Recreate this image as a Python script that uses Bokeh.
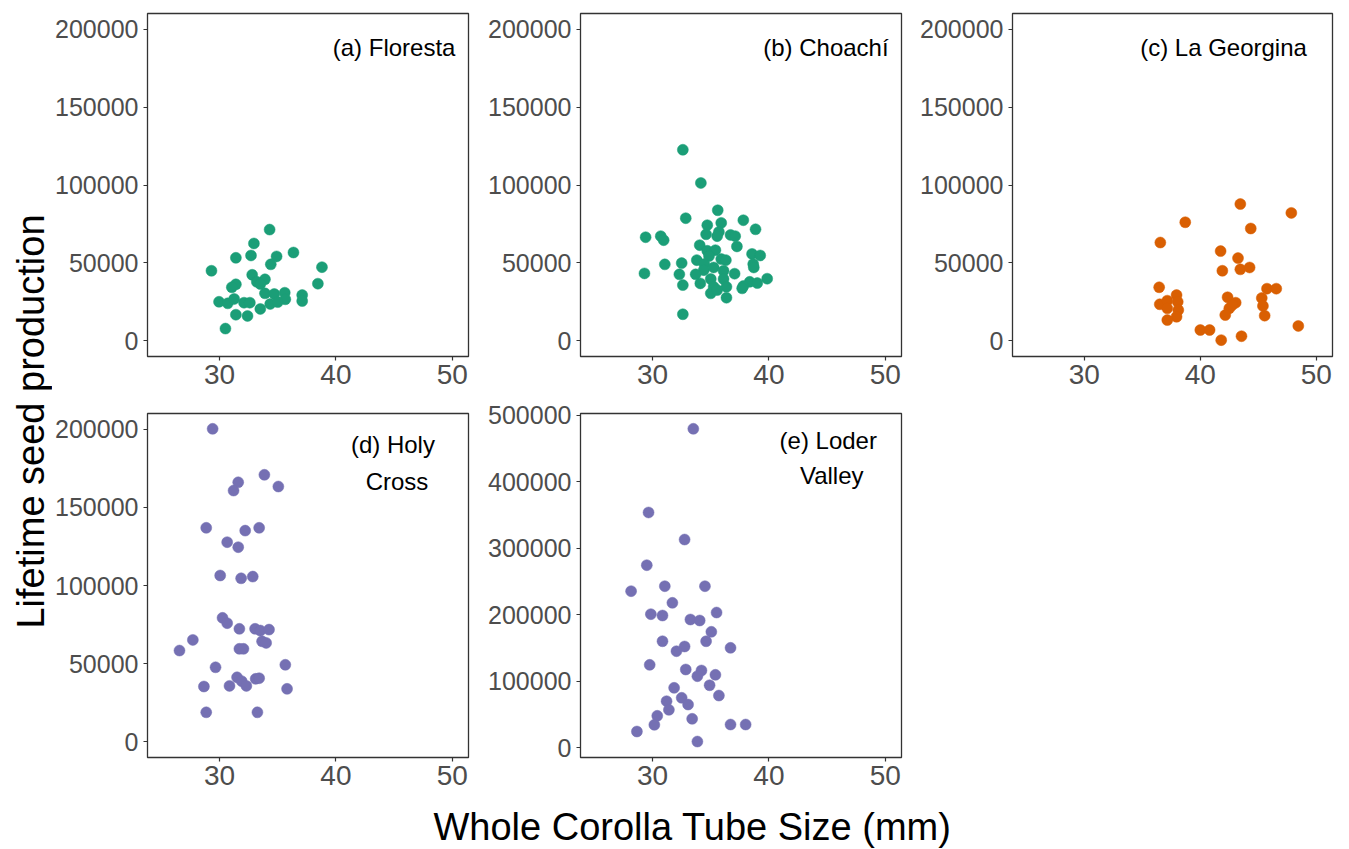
import math
from bokeh.plotting import figure
from bokeh.models import Range1d, FixedTicker, NumeralTickFormatter, Label
from bokeh.layouts import row, column
from bokeh.embed import file_html
from bokeh.resources import INLINE

FONT = "Liberation Sans"

# ---------------- data ----------------
floresta_x = [34.3, 32.95, 31.4, 32.7, 34.9, 36.35, 34.4, 29.3, 38.8, 32.8, 33.9, 33.2,
              31.4, 31.05, 38.45, 33.9, 34.7, 35.6, 37.1, 35.65, 37.1, 29.95, 30.7, 31.25,
              32.1, 32.6, 34.35, 35.0, 33.5, 31.4, 32.4, 30.5, 33.5]
floresta_y = [71400, 62500, 53300, 54800, 54200, 56700, 49100, 45000, 47300, 42400, 39500, 37900,
              36300, 34400, 36700, 30500, 30100, 30900, 29400, 26700, 25600, 25100, 24100, 26900,
              24500, 24500, 23700, 24900, 20500, 16800, 16000, 7900, 36500]

choachi_x = [32.6, 34.15, 35.6, 32.85, 37.8, 35.9, 34.7, 38.85, 34.6, 35.7, 36.7, 37.1,
             29.4, 30.7, 30.95, 35.55, 34.05, 37.25, 34.7, 35.4, 38.55, 39.25, 34.85, 33.8,
             35.9, 36.3, 31.05, 32.5, 38.65, 34.45, 34.4, 35.25, 38.7, 36.1, 29.3, 32.3,
             33.7, 37.05, 35.0, 36.1, 39.85, 38.35, 39.0, 32.6, 34.1, 37.8, 35.25, 36.35,
             37.7, 35.0, 35.55, 36.35, 32.6]
choachi_y = [122600, 101300, 83800, 78700, 77400, 75700, 74200, 71600, 68400, 69900, 68000, 67200,
             66500, 67200, 64600, 67200, 61400, 60600, 57800, 58200, 55800, 54800, 54400, 51800,
             52500, 51800, 49100, 49900, 49300, 49300, 45400, 47100, 47100, 45000, 43300, 42700,
             42700, 43100, 39700, 39700, 39900, 37900, 37100, 35800, 36900, 35200, 34700, 34700,
             33700, 30500, 32600, 27700, 17100]

georgina_x = [43.45, 47.85, 38.7, 44.35, 36.55, 41.75, 43.25, 41.9, 43.45, 44.25, 36.45, 45.75,
              46.55, 37.95, 42.35, 45.3, 36.5, 37.15, 38.05, 43.05, 37.15, 38.1, 45.4, 42.5,
              42.15, 37.95, 45.55, 37.15, 48.45, 40.0, 40.8, 43.55, 41.8, 42.75]
georgina_y = [87800, 82100, 76100, 72100, 63100, 57600, 53100, 45000, 45900, 47100, 34400, 33500,
              33500, 29400, 28000, 27500, 23500, 25800, 25100, 24500, 20900, 19800, 22400, 20900,
              16600, 15500, 16200, 13400, 9600, 7000, 7000, 3000, 500, 23000]

holycross_x = [29.4, 33.85, 31.6, 31.2, 35.05, 28.85, 32.2, 33.4, 30.65, 31.6, 30.05, 31.85,
               32.85, 30.25, 30.65, 31.7, 33.05, 33.5, 34.25, 27.7, 26.55, 33.65, 34.0, 31.7,
               32.05, 29.65, 35.65, 31.5, 31.9, 32.3, 33.1, 33.4, 28.65, 30.85, 35.8, 28.85, 33.25]
holycross_y = [200200, 170800, 166000, 160700, 163300, 136900, 135100, 136900, 127700, 124500, 106400, 104600,
               105700, 79300, 75900, 72300, 72300, 71200, 71800, 65200, 58400, 64300, 63300, 59500,
               59500, 47700, 49300, 41300, 38800, 35800, 40300, 40700, 35400, 35800, 33900, 18900, 18900]

loder_x = [33.5, 29.65, 32.75, 29.5, 31.05, 28.15, 34.5, 31.7, 29.85, 30.85, 35.5, 33.25,
           34.05, 35.05, 30.85, 34.6, 32.75, 32.05, 36.7, 29.75, 32.85, 34.2, 33.85, 35.4,
           34.9, 35.7, 31.85, 32.5, 33.05, 31.2, 31.4, 30.4, 30.15, 33.4, 36.7, 38.0, 28.65, 33.85]
loder_y = [479500, 353600, 312900, 274300, 242700, 235200, 242700, 217700, 200600, 198600, 203100, 192600,
           191100, 174100, 159900, 159900, 152000, 144900, 150000, 124400, 117400, 115900, 107300, 109400,
           93700, 78200, 89800, 74800, 64700, 69700, 56700, 47700, 34200, 43200, 34600, 34600, 24100, 9000]

panel_titles = ["(a) Floresta", "(b) Choachí", "(c) La Georgina", ["(d) Holy", "Cross"], ["(e) Loder", "Valley"]]
x_ticks = [30, 40, 50]
y_ticks_small = [0, 50000, 100000, 150000, 200000]
y_ticks_large = [0, 100000, 200000, 300000, 400000, 500000]

GREEN = "#1B9E77"
ORANGE = "#D95F02"
PURPLE = "#7570B3"

X_RANGE = (23.8, 51.4)


def panel(xs, ys, color, yticks, yrange, width, height, bl, br, bt, bb, labels):
    p = figure(width=width, height=height, x_range=Range1d(*X_RANGE), y_range=Range1d(*yrange),
               output_backend="svg", toolbar_location=None,
               min_border_left=bl, min_border_right=br, min_border_top=bt, min_border_bottom=bb)
    p.xaxis.ticker = FixedTicker(ticks=x_ticks)
    p.yaxis.ticker = FixedTicker(ticks=yticks)
    p.yaxis.formatter = NumeralTickFormatter(format="0")
    for ax in p.axis:
        ax.axis_line_color = None
        ax.major_tick_line_color = "#333333"
        ax.major_tick_line_width = 1.2
        ax.major_tick_out = 4
        ax.major_tick_in = 0
        ax.minor_tick_line_color = None
        ax.major_label_text_font = FONT
        ax.major_label_text_color = "#4D4D4D"
    p.xaxis.major_label_text_font_size = "28px"
    p.yaxis.major_label_text_font_size = "25px"
    p.xaxis.major_label_standoff = 4
    p.yaxis.major_label_standoff = 5
    p.grid.visible = False
    p.outline_line_color = "#333333"
    p.outline_line_width = 1.3
    p.outline_line_alpha = 1.0
    p.background_fill_color = "white"
    p.border_fill_color = "white"
    p.scatter(x=xs, y=ys, size=11, marker="circle", fill_color=color, line_color=color, line_width=0.5)
    for (txt, lx, ly) in labels:
        p.add_layout(Label(x=lx, y=ly, text=txt, text_align="center", text_baseline="middle",
                           text_font=FONT, text_font_size="24px", text_color="black"))
    return p


# Row 1: page y 0 -> 397 ; frame 13 -> 356
H1, BT1, BB1 = 397, 13, 41
# Row 2: page y 397 -> 798 ; frame 413 -> 757
H2, BT2, BB2 = 401, 16, 41

pa = panel(floresta_x, floresta_y, GREEN, y_ticks_small, (-10000, 210000), 428, H1, 95, 12, BT1, BB1,
           [(panel_titles[0], 45.0, 188000)])
pb = panel(choachi_x, choachi_y, GREEN, y_ticks_small, (-10000, 210000), 432, H1, 100, 11, BT1, BB1,
           [(panel_titles[1], 44.9, 188000)])
pc = panel(georgina_x, georgina_y, ORANGE, y_ticks_small, (-10000, 210000), 432, H1, 100, 12, BT1, BB1,
           [(panel_titles[2], 42.0, 188000)])
pd = panel(holycross_x, holycross_y, PURPLE, y_ticks_small, (-10000, 210000), 428, H2, 95, 12, BT2, BB2,
           [(panel_titles[3][0], 44.9, 190000), (panel_titles[3][1], 45.25, 166500)])
pe = panel(loder_x, loder_y, PURPLE, y_ticks_large, (-15000, 502500), 432, H2, 100, 11, BT2, BB2,
           [(panel_titles[4][0], 45.1, 462000), (panel_titles[4][1], 45.4, 409000)])

# y title figure (page x 0 -> 52)
YW, YH = 52, H1 + H2
ylab = figure(width=YW, height=YH, x_range=Range1d(0, YW), y_range=Range1d(0, YH),
              x_axis_type=None, y_axis_type=None, output_backend="svg", toolbar_location=None,
              min_border_left=0, min_border_right=0, min_border_top=0, min_border_bottom=0)
ylab.grid.visible = False
ylab.outline_line_color = None
ylab.add_layout(Label(x=30, y=YH - 421, text="Lifetime seed production", angle=math.pi / 2,
                      text_align="center", text_baseline="middle", text_font=FONT,
                      text_font_size="38px", text_color="black"))

# x title figure (page y 798 -> 849)
XW, XH = 1344, 51
xlab = figure(width=XW, height=XH, x_range=Range1d(0, XW), y_range=Range1d(0, XH),
              x_axis_type=None, y_axis_type=None, output_backend="svg", toolbar_location=None,
              min_border_left=0, min_border_right=0, min_border_top=0, min_border_bottom=0)
xlab.grid.visible = False
xlab.outline_line_color = None
xlab.add_layout(Label(x=692, y=XH - (826 - H1 - H2), text="Whole Corolla Tube Size (mm)",
                      text_align="center", text_baseline="middle", text_font=FONT,
                      text_font_size="38px", text_color="black"))

layout = column(row(ylab, column(row(pa, pb, pc), row(pd, pe))), xlab)

open("out.html", "w").write(file_html(layout, INLINE))
